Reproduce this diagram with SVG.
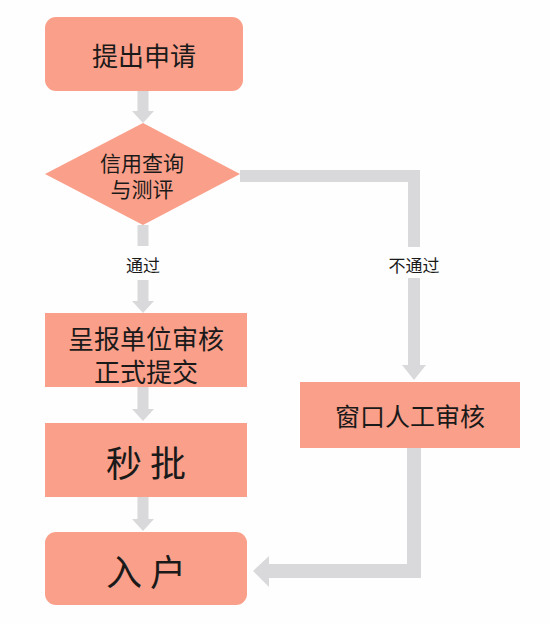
<svg xmlns="http://www.w3.org/2000/svg" width="550" height="624" viewBox="0 0 550 624">
<style>
.box{fill:#FA9F89;}
.t{font-family:"Noto Sans CJK SC","Noto Sans",sans-serif;fill:#1a1a1a;text-anchor:middle;dominant-baseline:central;}
.bar{fill:none;stroke:#D9D9DB;stroke-linejoin:miter;stroke-linecap:butt;}
.head{fill:#D9D9DB;}
.lbl{font-family:"Noto Sans CJK SC","Noto Sans",sans-serif;fill:#1a1a1a;text-anchor:middle;dominant-baseline:central;font-size:17px;}
</style>
<rect width="550" height="624" fill="#FEFEFE"/>
<g id="connectors">
<path class="bar" stroke-width="11" d="M143,91 V112"/>
<polygon class="head" points="132,111 154,111 143,123"/>
<path class="bar" stroke-width="11" d="M143,225 V246 M143,280 V302"/>
<polygon class="head" points="132,301 154,301 143,313"/>
<path class="bar" stroke-width="11" d="M143,387 V410"/>
<polygon class="head" points="132,409 154,409 143,421"/>
<path class="bar" stroke-width="11" d="M143,497 V520"/>
<polygon class="head" points="132,519 154,519 143,531"/>
<path class="bar" stroke-width="12" d="M240,176 H414 V247 M414,278 V366"/>
<polygon class="head" points="402,365 426,365 414,380"/>
<path class="bar" stroke-width="14" d="M414,448 V571 H268"/>
<polygon class="head" points="269,556 269,587 253,571"/>
<text class="lbl" x="143" y="264">通过</text>
<text class="lbl" x="414" y="264">不通过</text>
</g>
<g id="n1">
<rect class="box" x="45" y="17" width="198" height="74" rx="11"/>
<text class="t" x="144" y="54" font-size="26">提出申请</text>
</g>
<g id="n2">
<polygon class="box" points="143,123 240,174 143,225 45,174"/>
<text class="t" x="142" y="162" font-size="21">信用查询</text>
<text class="t" x="142" y="188" font-size="21">与测评</text>
</g>
<g id="n3">
<rect class="box" x="45" y="313" width="202" height="74"/>
<text class="t" x="146" y="337" font-size="26">呈报单位审核</text>
<text class="t" x="146" y="370" font-size="26">正式提交</text>
</g>
<g id="n4">
<rect class="box" x="45" y="423" width="202" height="74"/>
<text class="t" x="146" y="461" font-size="36">秒 批</text>
</g>
<g id="n5">
<rect class="box" x="45" y="532" width="202" height="73" rx="11"/>
<text class="t" x="146" y="570" font-size="36">入 户</text>
</g>
<g id="n6">
<rect class="box" x="300" y="382" width="220" height="66"/>
<text class="t" x="410" y="415" font-size="25">窗口人工审核</text>
</g>
</svg>
